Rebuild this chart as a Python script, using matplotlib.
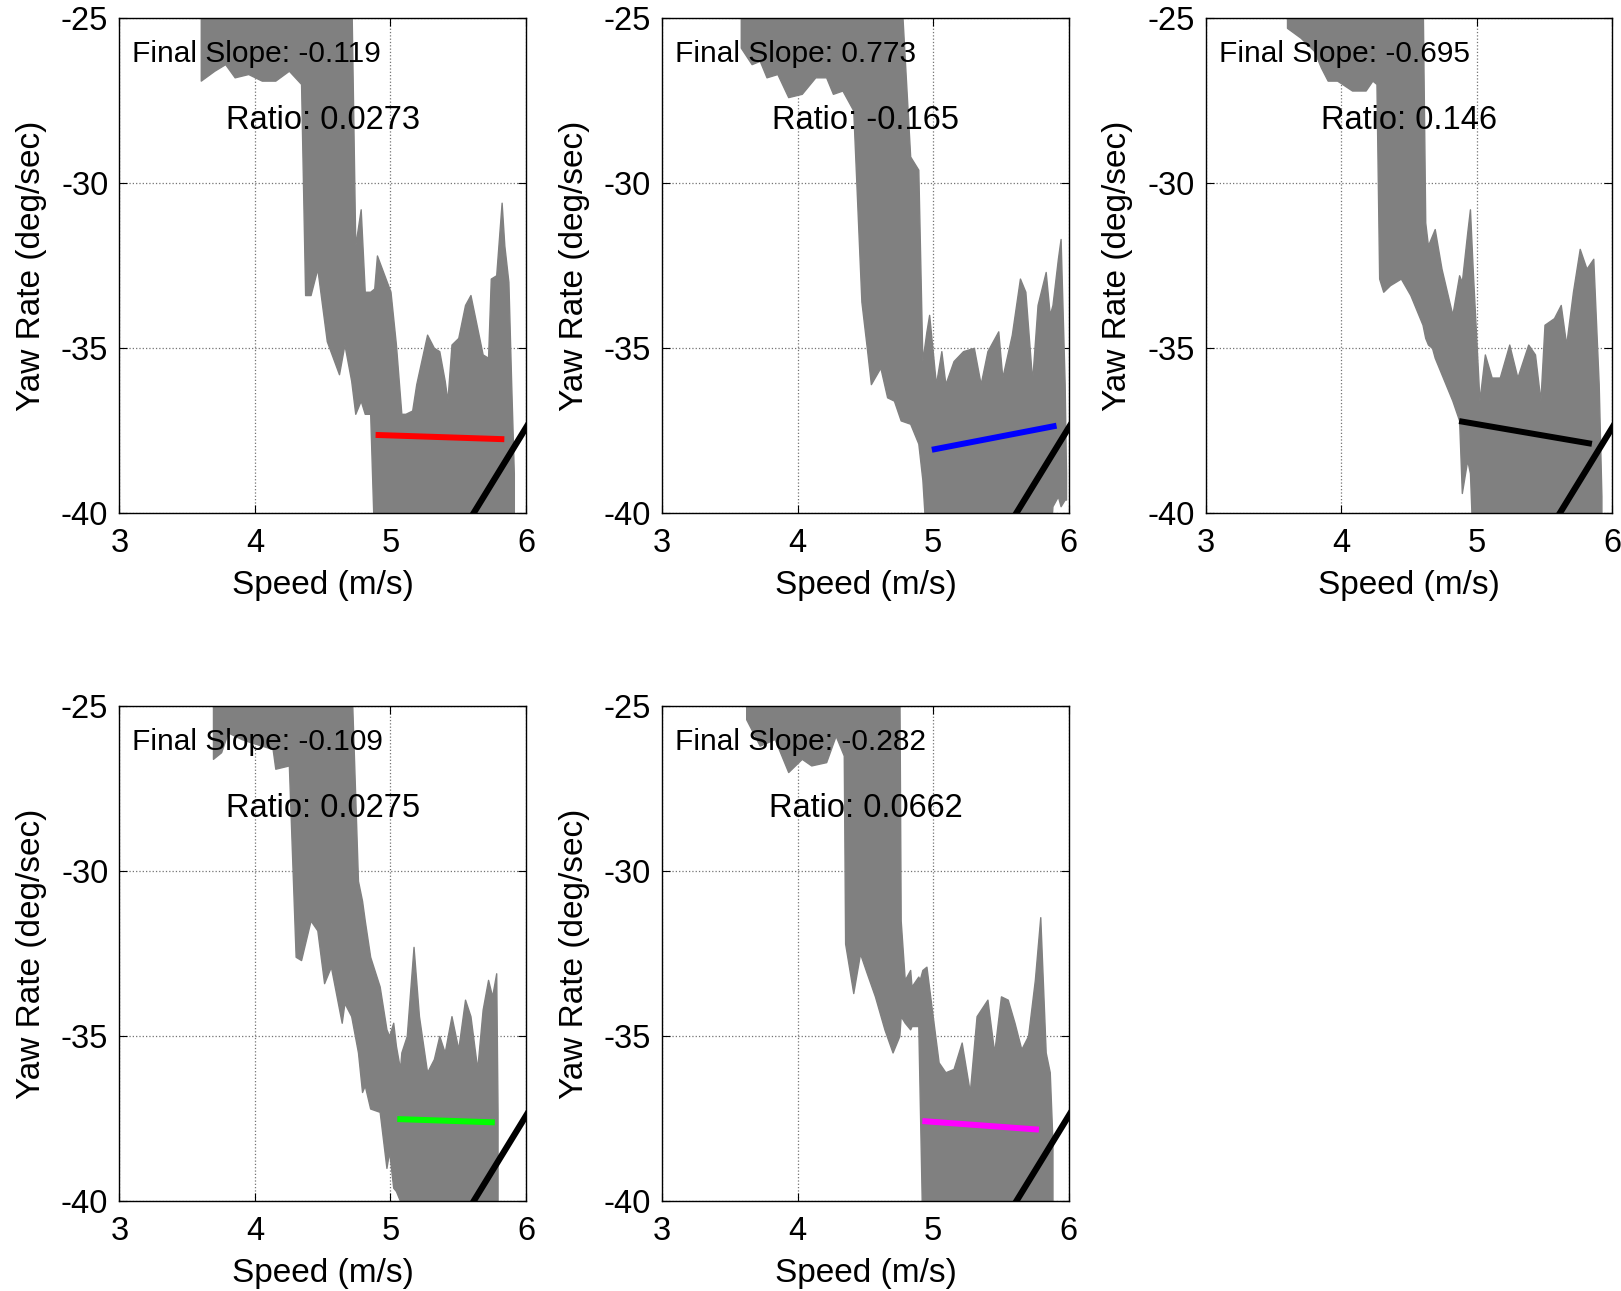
import matplotlib
matplotlib.use('Agg')
import matplotlib.pyplot as plt

plt.rcParams['font.family'] = ['Liberation Sans', 'DejaVu Sans']
plt.rcParams['axes.unicode_minus'] = False

# gray trace envelopes (speed, lower yaw, upper yaw)
p1_x = [3.60, 3.70, 3.78, 3.85, 3.95, 4.05, 4.15, 4.25, 4.34, 4.37, 4.41, 4.46, 4.53, 4.62, 4.66, 4.71,
        4.74, 4.78, 4.81, 4.85, 4.88, 4.90, 5.00, 5.04, 5.08, 5.11, 5.16, 5.19, 5.27, 5.32, 5.36, 5.40,
        5.42, 5.45, 5.50, 5.55, 5.59, 5.63, 5.68, 5.72, 5.74, 5.78, 5.82, 5.84, 5.87, 5.89, 5.91]
p1_lo = [-26.9, -26.6, -26.4, -26.8, -26.7, -26.9, -26.9, -26.6, -27.0, -33.4, -33.4, -32.6, -34.8, -35.8,
         -34.9, -36.0, -37.0, -36.6, -37.0, -37.0, -41, -41, -41, -41, -41, -41, -41, -41, -41, -41, -41,
         -41, -41, -41, -41, -41, -41, -41, -41, -41, -41, -41, -41, -41, -41, -41, -41]
p1_hi = [-24, -24, -24, -24, -24, -24, -24, -24, -24, -24, -24, -24, -24, -24, -24, -24,
         -31.9, -30.8, -33.3, -33.3, -33.2, -32.2, -33.3, -34.9, -37.0, -37.0, -36.9, -36.1, -34.6, -35.0,
         -35.1, -36.0, -36.6, -34.9, -34.7, -33.7, -33.4, -34.2, -35.2, -35.3, -32.9, -32.8, -30.6, -31.9,
         -33.0, -36.0, -38.8]

p2_x = [3.58, 3.66, 3.72, 3.77, 3.85, 3.93, 4.03, 4.13, 4.21, 4.26, 4.33, 4.41, 4.47, 4.51, 4.54, 4.61,
        4.66, 4.71, 4.76, 4.83, 4.89, 4.92, 4.95, 4.97, 5.02, 5.06, 5.09, 5.15, 5.22, 5.30, 5.35, 5.40,
        5.48, 5.51, 5.58, 5.64, 5.68, 5.73, 5.77, 5.83, 5.86, 5.88, 5.92, 5.94, 5.97, 5.98]
p2_lo = [-25.9, -26.4, -26.3, -26.8, -26.7, -27.4, -27.3, -26.8, -26.8, -27.3, -27.2, -27.8,
         -33.6, -35.0, -36.1, -35.6, -36.5, -36.6, -37.2, -37.3, -37.9, -39.0,
         -41, -41, -41, -41, -41, -41, -41, -41, -41, -41, -41, -41, -41, -41, -41, -41, -41, -41, -41,
         -39.8, -39.5, -39.8, -39.6, -39.6]
p2_hi = [-24, -24, -24, -24, -24, -24, -24, -24, -24, -24, -24, -24, -24, -24, -24, -24, -24, -24, -24,
         -29.2, -29.6, -35.4, -34.5, -34.0, -36.1, -35.1, -36.1, -35.4, -35.1, -35.0, -36.1, -35.1, -34.5,
         -35.9, -34.6, -32.9, -33.3, -36.0, -33.7, -32.7, -34.0, -33.7, -32.3, -31.7, -36.1, -38.8]

p3_x = [3.60, 3.70, 3.80, 3.85, 3.90, 3.97, 4.08, 4.18, 4.23, 4.26, 4.28, 4.31, 4.36, 4.44, 4.51, 4.60,
        4.62, 4.64, 4.67, 4.69, 4.74, 4.82, 4.87, 4.89, 4.93, 4.95, 4.97, 5.02, 5.06, 5.11, 5.17, 5.24,
        5.30, 5.38, 5.43, 5.47, 5.50, 5.57, 5.62, 5.66, 5.71, 5.76, 5.81, 5.86, 5.90, 5.92]
p3_lo = [-25.3, -25.6, -26.0, -26.5, -26.9, -26.9, -27.2, -27.2, -26.9, -27.0, -32.9, -33.3, -33.1,
         -32.9, -33.4, -34.3, -34.7, -34.9, -35.0, -35.3, -35.8, -36.6, -37.2, -39.4, -38.4, -38.8,
         -41, -41, -41, -41, -41, -41, -41, -41, -41, -41, -41, -41, -41, -41, -41, -41, -41, -41, -41, -41]
p3_hi = [-24, -24, -24, -24, -24, -24, -24, -24, -24, -24, -24, -24, -24, -24, -24, -24,
         -31.2, -31.9, -31.6, -31.4, -32.6, -34.0, -32.8, -33.0, -31.5, -30.8, -32.6, -36.6, -35.2, -35.9,
         -35.9, -34.9, -35.9, -34.9, -35.2, -36.6, -34.3, -34.1, -33.7, -34.9, -33.3, -32.0, -32.6, -32.3,
         -36.1, -39.5]

p4_x = [3.69, 3.75, 3.80, 3.90, 3.97, 4.05, 4.13, 4.15, 4.25, 4.30, 4.34, 4.41, 4.46, 4.51, 4.56, 4.64,
        4.66, 4.71, 4.76, 4.79, 4.81, 4.85, 4.92, 4.97, 4.99, 5.02, 5.04, 5.07, 5.08, 5.12, 5.17, 5.21,
        5.27, 5.32, 5.36, 5.40, 5.45, 5.50, 5.55, 5.59, 5.64, 5.68, 5.72, 5.75, 5.78, 5.79]
p4_lo = [-26.6, -26.4, -25.8, -26.0, -26.1, -26.2, -26.3, -26.9, -26.8, -32.6, -32.7, -31.5, -31.8,
         -33.4, -32.9, -34.6, -34.0, -34.4, -35.5, -36.7, -36.5, -37.2, -37.3, -39.0, -38.5, -39.6, -39.7,
         -40.0, -41, -41, -41, -41, -41, -41, -41, -41, -41, -41, -41, -41, -41, -41, -41, -41, -41, -41]
p4_hi = [-24, -24, -24, -24, -24, -24, -24, -24, -24, -24, -24, -24, -24, -24, -24, -24, -24, -24,
         -30.3, -30.9, -31.5, -32.6, -33.5, -34.8, -35.0, -34.6, -35.3, -36.0, -35.5, -35.0, -32.3, -34.4,
         -36.1, -35.7, -35.0, -35.5, -34.4, -35.4, -33.9, -34.4, -36.0, -34.2, -33.3, -33.8, -33.1, -37.3]

p5_x = [3.62, 3.72, 3.83, 3.93, 4.03, 4.10, 4.21, 4.28, 4.34, 4.35, 4.41, 4.46, 4.51, 4.57, 4.64, 4.70,
        4.75, 4.76, 4.79, 4.83, 4.84, 4.89, 4.90, 4.92, 4.95, 4.99, 5.04, 5.09, 5.15, 5.21, 5.27, 5.32,
        5.40, 5.45, 5.50, 5.55, 5.60, 5.65, 5.70, 5.75, 5.79, 5.83, 5.86, 5.88]
p5_lo = [-25.4, -26.2, -26.0, -27.0, -26.6, -26.8, -26.7, -25.9, -26.5, -32.2, -33.7, -32.5, -33.1,
         -33.8, -34.8, -35.5, -35.0, -34.4, -34.6, -34.8, -34.7, -34.7, -36.8,
         -41, -41, -41, -41, -41, -41, -41, -41, -41, -41, -41, -41, -41, -41, -41, -41, -41, -41, -41, -41,
         -41]
p5_hi = [-24, -24, -24, -24, -24, -24, -24, -24, -24, -24, -24, -24, -24, -24, -24, -24, -24,
         -31.5, -33.3, -33.0, -33.5, -33.2, -33.3, -33.0, -32.9, -34.2, -35.8, -36.1, -36.0, -35.2, -36.7,
         -34.4, -33.9, -35.5, -33.8, -33.9, -34.6, -35.4, -35.0, -33.3, -31.4, -35.5, -36.1, -38.2]

# final fitted lines (end points) and their colours
fit_x = [[4.89, 5.84], [4.99, 5.91], [4.87, 5.85], [5.05, 5.77], [4.92, 5.78]]
fit_y = [[-37.64, -37.77], [-38.09, -37.36], [-37.22, -37.91], [-37.52, -37.62], [-37.58, -37.84]]
fit_colors = ['#ff0000', '#0000ff', '#000000', '#00ff00', '#ff00ff']

# black reference line, same in every panel
ref_x = [5.5, 6.1]
ref_y = [-40.77, -36.75]

slopes = ['-0.119', '0.773', '-0.695', '-0.109', '-0.282']
ratios = ['0.0273', '-0.165', '0.146', '0.0275', '0.0662']

traces = [(p1_x, p1_lo, p1_hi), (p2_x, p2_lo, p2_hi), (p3_x, p3_lo, p3_hi),
          (p4_x, p4_lo, p4_hi), (p5_x, p5_lo, p5_hi)]

fig = plt.figure(figsize=(16.21, 12.91), dpi=100)
lefts = [0.0737, 0.4085, 0.7438, 0.0737, 0.4085]
bottoms = [0.6028, 0.6028, 0.6028, 0.0698, 0.0698]

for i in range(5):
    ax = fig.add_axes([lefts[i], bottoms[i], 0.2508, 0.3833])
    x, lo, hi = traces[i]
    ax.fill_between(x, lo, hi, color='#808080', linewidth=1.0, zorder=2)
    ax.plot(fit_x[i], fit_y[i], color=fit_colors[i], linewidth=4.3, solid_capstyle='butt', zorder=3)
    ax.plot(ref_x, ref_y, color='black', linewidth=4.5, zorder=3)

    ax.set_xlim(3, 6)
    ax.set_ylim(-40, -25)
    ax.set_xticks([3, 4, 5, 6])
    ax.set_yticks([-40, -35, -30, -25])
    ax.grid(True, linestyle=':', color='0.45', linewidth=0.9)
    ax.set_axisbelow(True)
    ax.tick_params(direction='in', length=6, top=True, right=True, labelsize=23.5)
    ax.tick_params(axis='x', pad=11)
    ax.tick_params(axis='y', pad=8)
    for s in ax.spines.values():
        s.set_linewidth(1.0)

    ax.set_xlabel('Speed (m/s)', fontsize=24, labelpad=8)
    ax.set_ylabel('Yaw Rate (deg/sec)', fontsize=24, labelpad=10)

    ax.text(0.032, 0.928, 'Final Slope: ' + slopes[i], transform=ax.transAxes,
            fontsize=21.5, ha='left', va='center', zorder=5)
    ax.text(0.5, 0.792, 'Ratio: ' + ratios[i], transform=ax.transAxes,
            fontsize=23.5, ha='center', va='center', zorder=5)

plt.savefig('out.png', dpi=100)
